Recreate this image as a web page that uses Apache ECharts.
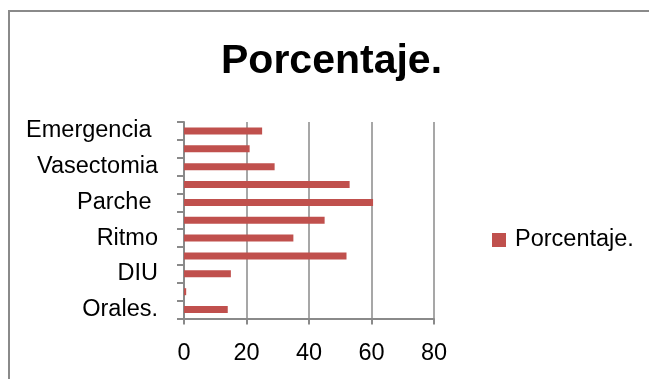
<!DOCTYPE html>
<html>
<head>
<meta charset="utf-8">
<title>Porcentaje.</title>
<script src="https://cdn.jsdelivr.net/npm/echarts@6/dist/echarts.min.js"></script>
<style>
  html, body { margin: 0; padding: 0; background: #ffffff; }
  #chart { width: 649px; height: 379px; }
</style>
</head>
<body>
<div id="chart"></div>
<script>
// Methods listed from the bottom of the axis to the top
const categories = ['Orales.', 'Inyectables', 'DIU', 'Condón', 'Ritmo', 'Implante', 'Parche ', 'Anillo vaginal', 'Vasectomia', 'Ligadura', 'Emergencia '];
const seriesName = 'Porcentaje.';
const values = [14, 0.7, 15, 52, 35, 45, 60.5, 53, 29, 21, 25];
const xTicks = [0, 20, 40, 60, 80];

const FONT = '"Liberation Sans", Arial, sans-serif';
const GREY = '#8a8a8a';
const LABEL_SIZE = 23.5;

const chart = echarts.init(document.getElementById('chart'), null, { renderer: 'canvas' });

chart.setOption({
  animation: false,
  backgroundColor: '#ffffff',
  title: {
    text: seriesName,
    left: 221,
    top: 41,
    padding: 0,
    textStyle: { fontFamily: FONT, fontSize: 41, fontWeight: 'bold', color: '#000000' }
  },
  legend: {
    data: [seriesName],
    left: 487,
    top: 223,
    icon: 'rect',
    itemWidth: 14,
    itemHeight: 14,
    itemGap: 8,
    textStyle: { fontFamily: FONT, fontSize: LABEL_SIZE, color: '#000000', padding: [0, 0, 0, 4] }
  },
  grid: { left: 184, right: 215, top: 122, bottom: 60.5, containLabel: false },
  xAxis: {
    type: 'value',
    min: xTicks[0],
    max: xTicks[xTicks.length - 1],
    interval: xTicks[1] - xTicks[0],
    axisLine: { show: true, lineStyle: { color: GREY, width: 2 } },
    axisTick: { show: true, length: 6, lineStyle: { color: GREY, width: 2 } },
    axisLabel: { margin: 23, fontFamily: FONT, fontSize: LABEL_SIZE, color: '#000000' },
    splitLine: { show: true, lineStyle: { color: GREY, width: 1.5 } }
  },
  yAxis: {
    type: 'category',
    data: categories,
    axisLine: { show: true, lineStyle: { color: GREY, width: 2 } },
    axisTick: { show: true, interval: 0, length: 7, lineStyle: { color: GREY, width: 2 } },
    axisLabel: { interval: 1, margin: 26, fontFamily: FONT, fontSize: LABEL_SIZE, color: '#000000' },
    splitLine: { show: false }
  },
  series: [{
    name: seriesName,
    type: 'bar',
    data: values,
    barWidth: 7,
    itemStyle: { color: '#c0504d' }
  }],
  graphic: [{
    type: 'rect',
    shape: { x: 9, y: 11, width: 720, height: 420 },
    style: { fill: 'none', stroke: GREY, lineWidth: 2 },
    silent: true
  }]
});
</script>
</body>
</html>
